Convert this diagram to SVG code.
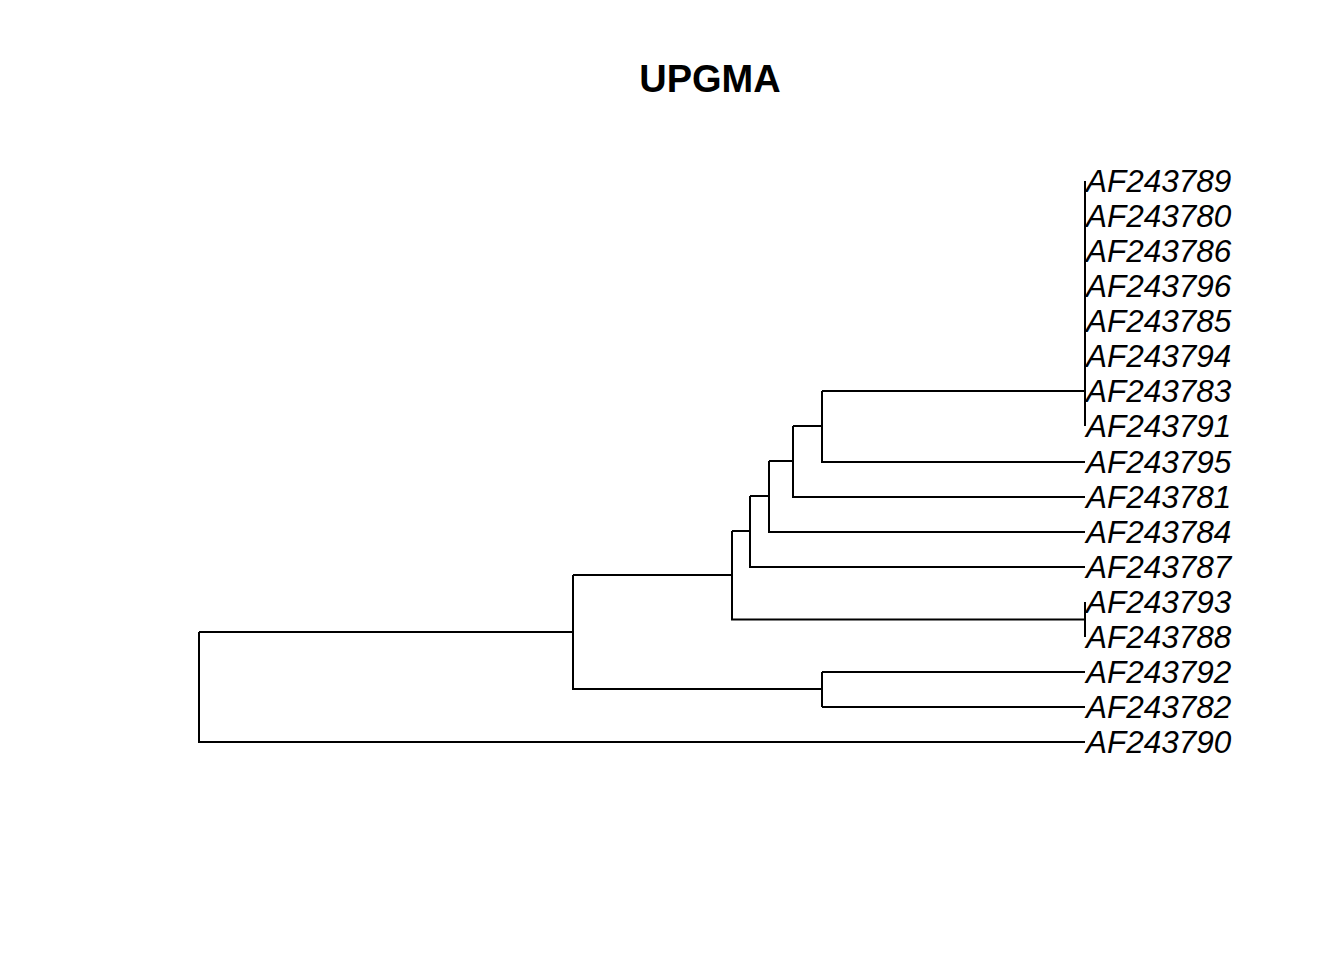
<svg xmlns="http://www.w3.org/2000/svg" width="1344" height="960" viewBox="0 0 1344 960">
<style>
.e{stroke:#000;stroke-width:2;fill:none;stroke-linecap:butt}
.t{font-family:"Liberation Sans",Arial,sans-serif;font-style:italic;font-size:31.5px;fill:#000}
.h{font-family:"Liberation Sans",Arial,sans-serif;font-weight:bold;font-size:38px;fill:#000}
</style>
<rect width="1344" height="960" fill="#fff"/>
<text id="title" class="h" x="710" y="92" text-anchor="middle">UPGMA</text>
<g id="connectors" class="e">
<path d="M199 632V742H1085"/>
<path d="M199 632H573"/>
<path d="M573 575V689H822"/>
<path d="M822 672V707"/>
<path d="M822 672H1085M822 707H1085"/>
<path d="M573 575H732"/>
<path d="M732 531V619.5H1085"/>
<path d="M1085 602V637"/>
<path d="M732 531H750"/>
<path d="M750 496V567H1085"/>
<path d="M750 496H769"/>
<path d="M769 461V532H1085"/>
<path d="M769 461H793"/>
<path d="M793 426V497H1085"/>
<path d="M793 426H822"/>
<path d="M822 391V462H1085"/>
<path d="M822 391H1085"/>
<path d="M1085 181V426"/>
</g>
<g id="tip-AF243789"><text class="t" x="1086" y="192">AF243789</text></g>
<g id="tip-AF243780"><text class="t" x="1086" y="227">AF243780</text></g>
<g id="tip-AF243786"><text class="t" x="1086" y="262">AF243786</text></g>
<g id="tip-AF243796"><text class="t" x="1086" y="297">AF243796</text></g>
<g id="tip-AF243785"><text class="t" x="1086" y="332">AF243785</text></g>
<g id="tip-AF243794"><text class="t" x="1086" y="367">AF243794</text></g>
<g id="tip-AF243783"><text class="t" x="1086" y="402">AF243783</text></g>
<g id="tip-AF243791"><text class="t" x="1086" y="437">AF243791</text></g>
<g id="tip-AF243795"><text class="t" x="1086" y="473">AF243795</text></g>
<g id="tip-AF243781"><text class="t" x="1086" y="508">AF243781</text></g>
<g id="tip-AF243784"><text class="t" x="1086" y="543">AF243784</text></g>
<g id="tip-AF243787"><text class="t" x="1086" y="578">AF243787</text></g>
<g id="tip-AF243793"><text class="t" x="1086" y="613">AF243793</text></g>
<g id="tip-AF243788"><text class="t" x="1086" y="648">AF243788</text></g>
<g id="tip-AF243792"><text class="t" x="1086" y="683">AF243792</text></g>
<g id="tip-AF243782"><text class="t" x="1086" y="718">AF243782</text></g>
<g id="tip-AF243790"><text class="t" x="1086" y="753">AF243790</text></g>
</svg>
